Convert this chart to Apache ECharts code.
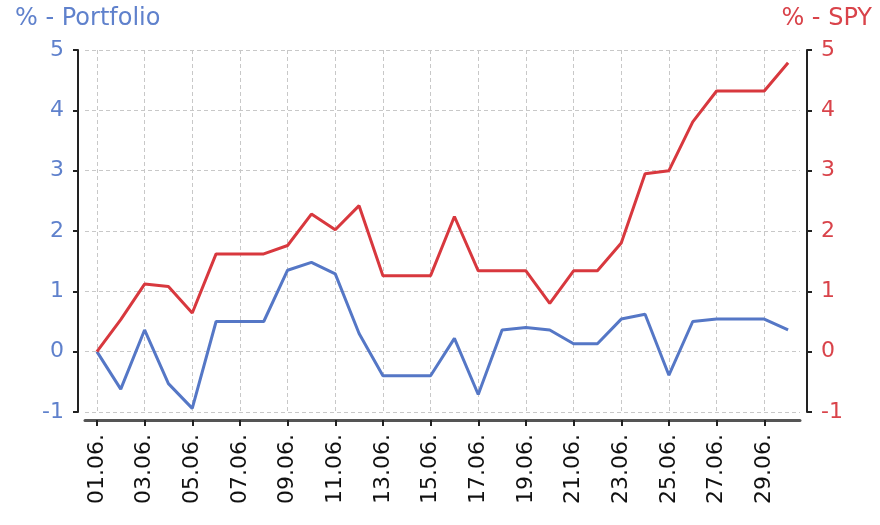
<!DOCTYPE html>
<html>
<head>
<meta charset="utf-8">
<script src="https://cdn.jsdelivr.net/npm/echarts@6/dist/echarts.min.js"></script>
<style>html,body{margin:0;padding:0;background:#fff}#c{width:880px;height:525px}</style>
</head>
<body>
<div id="c"></div>
<script>
const days = ["01.06.","02.06.","03.06.","04.06.","05.06.","06.06.","07.06.","08.06.","09.06.","10.06.",
  "11.06.","12.06.","13.06.","14.06.","15.06.","16.06.","17.06.","18.06.","19.06.","20.06.",
  "21.06.","22.06.","23.06.","24.06.","25.06.","26.06.","27.06.","28.06.","29.06.","30.06."];
const portfolio = [0, -0.62, 0.36, -0.53, -0.94, 0.5, 0.5, 0.5, 1.35, 1.48,
  1.29, 0.3, -0.4, -0.4, -0.4, 0.22, -0.71, 0.36, 0.4, 0.36,
  0.13, 0.13, 0.54, 0.62, -0.39, 0.5, 0.54, 0.54, 0.54, 0.36];
const spy = [0, 0.53, 1.12, 1.08, 0.64, 1.62, 1.62, 1.62, 1.76, 2.28,
  2.02, 2.42, 1.26, 1.26, 1.26, 2.24, 1.34, 1.34, 1.34, 0.8,
  1.34, 1.34, 1.8, 2.95, 3.0, 3.81, 4.32, 4.32, 4.32, 4.79];
const yTicks = {min: -1, max: 5, interval: 1};
const leftTitle = "% - Portfolio";
const rightTitle = "% - SPY";

const BLUE = '#5577c6', RED = '#d8383e', BLUE_T = '#5f81cc', RED_T = '#d9434a';
const FONT = 'DejaVu Sans';
const chart = echarts.init(document.getElementById('c'), null, {renderer: 'canvas'});
const grid = {left: 85, right: 80, top: 50, bottom: 113};
function yAxis(pos, color) {
  return {
    type: 'value', position: pos, min: yTicks.min, max: yTicks.max, interval: yTicks.interval,
    offset: 7,
    axisLine: {show: true, lineStyle: {color: '#222', width: 2}},
    axisTick: {show: true, length: 5, lineStyle: {color: '#222', width: 2}},
    axisLabel: {color: color, fontFamily: FONT, fontSize: 22, margin: 14},
    splitLine: {show: pos === 'left', lineStyle: {color: '#c8c8c8', type: [4, 3], width: 1}}
  };
}
chart.setOption({
  animation: false,
  title: [
    {text: leftTitle, left: 10, top: 2, textStyle: {color: BLUE_T, fontFamily: FONT, fontSize: 24, fontWeight: 'normal'}},
    {text: rightTitle, right: 3, top: 2, textStyle: {color: RED_T, fontFamily: FONT, fontSize: 24, fontWeight: 'normal'}}
  ],
  grid: grid,
  xAxis: {
    type: 'category', data: days, boundaryGap: true, offset: 8,
    axisLine: {show: true, onZero: false, lineStyle: {color: '#555', width: 3}},
    axisTick: {show: true, interval: 1, alignWithLabel: true, length: 6, lineStyle: {color: '#222', width: 2}},
    axisLabel: {interval: 1, rotate: 90, color: '#111', fontFamily: FONT, fontSize: 22, margin: 14},
    splitLine: {show: true, interval: 1, alignWithLabel: true, lineStyle: {color: '#c8c8c8', type: [4, 3], width: 1}}
  },
  yAxis: [yAxis('left', BLUE_T), yAxis('right', RED_T)],
  series: [
    {name: 'Portfolio', type: 'line', yAxisIndex: 0, data: portfolio, symbol: 'none',
      lineStyle: {color: BLUE, width: 3}},
    {name: 'SPY', type: 'line', yAxisIndex: 1, data: spy, symbol: 'none',
      lineStyle: {color: RED, width: 3}}
  ]
});
</script>
</body>
</html>
